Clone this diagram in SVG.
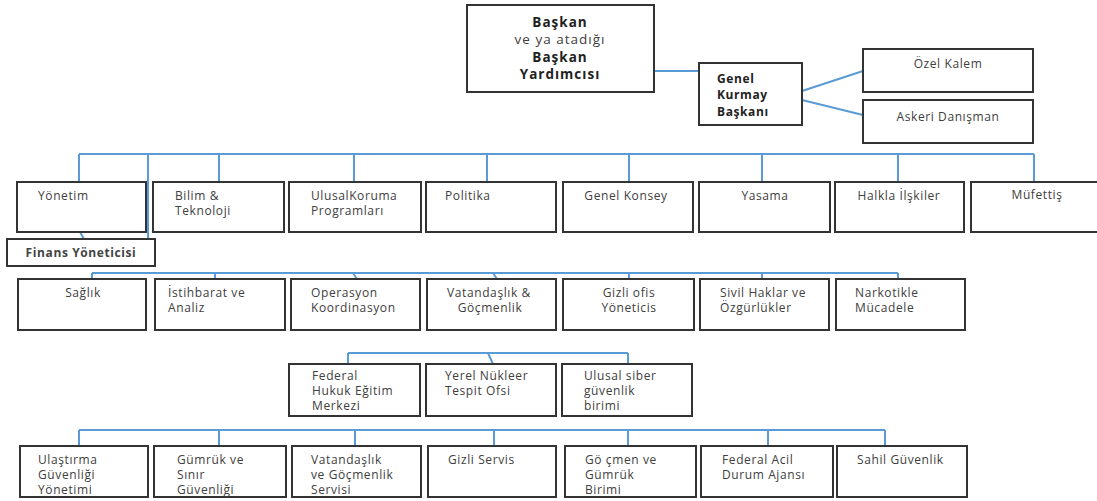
<svg xmlns="http://www.w3.org/2000/svg" width="1097" height="501" viewBox="0 0 1097 501">
<style>
.box{fill:#fff;stroke:#333;stroke-width:2}
.c{fill:none;stroke:#5b9bd5;stroke-width:2}
text{font-family:"Open Sans","Liberation Sans",sans-serif;font-size:12px;fill:#404040;letter-spacing:0.6px}
.b{font-weight:bold;fill:#222}
.t{font-size:13.5px;letter-spacing:1px}
.m{text-anchor:middle}
</style>
<rect width="1097" height="501" fill="#fff"/>
<g id="connectors">
<path class="c" d="M654 71H699"/>
<path class="c" d="M802 91L863 71M802 100L863 115"/>
<path class="c" d="M79 154H1034M79 154V182M219 154V182M354 154V182M487 154V182M629 154V182M762 154V182M898 154V182M1034 154V182M148 154V239"/>
<path class="c" d="M80 232L84 239"/>
<path class="c" d="M92 273H898M92 273V279M215 273V279M353 273L357 279M493 273L497 279M629 273V279M762 273V279M898 273V279"/>
<path class="c" d="M348 353H628M348 353V364M488 353L493 364M628 353V364"/>
<path class="c" d="M79 430H885M79 430V446M219 430V446M355 430V446M494 430V446M628 430V446M768 430V446M885 430V446"/>
</g>
<g id="baskan"><rect class="box" x="467" y="5" width="187" height="87"/>
<text class="b t m" x="560" y="27">Başkan</text><text class="t m" x="560" y="44">ve ya atadığı</text><text class="b t m" x="560" y="62">Başkan</text><text class="b t m" x="560" y="79">Yardımcısı</text></g>
<g id="genelkurmay"><rect class="box" x="699" y="63" width="103" height="62"/>
<text class="b" x="717" y="83">Genel</text><text class="b" x="717" y="99">Kurmay</text><text class="b" x="717" y="116">Başkanı</text></g>
<g id="ozelkalem"><rect class="box" x="863" y="49" width="170" height="43"/><text class="m" x="948" y="68">Özel Kalem</text></g>
<g id="askeri"><rect class="box" x="863" y="100" width="170" height="43"/><text class="m" x="948" y="121">Askeri Danışman</text></g>
<g id="yonetim"><rect class="box" x="17" y="182" width="129" height="50"/><text x="38" y="200">Yönetim</text></g>
<g id="bilim"><rect class="box" x="153" y="182" width="131" height="50"/><text x="175" y="200">Bilim &amp;</text><text x="175" y="215">Teknoloji</text></g>
<g id="ulusalkoruma"><rect class="box" x="289" y="182" width="132" height="50"/><text x="311" y="200">UlusalKoruma</text><text x="311" y="215">Programları</text></g>
<g id="politika"><rect class="box" x="426" y="182" width="130" height="50"/><text x="445" y="200">Politika</text></g>
<g id="genelkonsey"><rect class="box" x="563" y="182" width="130" height="50"/><text class="m" x="626" y="200">Genel Konsey</text></g>
<g id="yasama"><rect class="box" x="699" y="182" width="131" height="50"/><text class="m" x="765" y="200">Yasama</text></g>
<g id="halkla"><rect class="box" x="835" y="182" width="129" height="50"/><text class="m" x="899" y="200">Halkla İlşkiler</text></g>
<g id="mufettis"><rect class="box" x="971" y="182" width="140" height="50"/><text class="m" x="1037" y="199">Müfettiş</text></g>
<g id="finans"><rect class="box" x="7" y="239" width="148" height="27"/><text class="b m" x="81" y="257" style="fill:#444">Finans Yöneticisi</text></g>
<g id="saglik"><rect class="box" x="18" y="279" width="128" height="51"/><text class="m" x="83" y="297">Sağlık</text></g>
<g id="istihbarat"><rect class="box" x="155" y="279" width="130" height="51"/><text x="168" y="297">İstihbarat ve</text><text x="168" y="312">Analiz</text></g>
<g id="operasyon"><rect class="box" x="291" y="279" width="129" height="51"/><text x="311" y="297">Operasyon</text><text x="311" y="312">Koordinasyon</text></g>
<g id="vatandaslik"><rect class="box" x="427" y="279" width="129" height="51"/><text class="m" x="489" y="297">Vatandaşlık &amp;</text><text class="m" x="490" y="312">Göçmenlik</text></g>
<g id="gizliofis"><rect class="box" x="563" y="279" width="131" height="51"/><text class="m" x="629" y="297">Gizli  ofis</text><text class="m" x="629" y="312">Yöneticis</text></g>
<g id="sivil"><rect class="box" x="700" y="279" width="129" height="51"/><text x="720" y="297">Sivil Haklar ve</text><text x="720" y="312">Özgürlükler</text></g>
<g id="narkotik"><rect class="box" x="836" y="279" width="129" height="51"/><text x="855" y="297">Narkotikle</text><text x="855" y="312">Mücadele</text></g>
<g id="federalhukuk"><rect class="box" x="289" y="364" width="131" height="52"/><text x="312" y="380">Federal</text><text x="312" y="395">Hukuk  Eğitim</text><text x="312" y="410">Merkezi</text></g>
<g id="yerel"><rect class="box" x="426" y="364" width="130" height="52"/><text x="445" y="380">Yerel Nükleer</text><text x="445" y="395">Tespit Ofsi</text></g>
<g id="siber"><rect class="box" x="562" y="364" width="130" height="52"/><text x="584" y="380">Ulusal siber</text><text x="584" y="395">güvenlik</text><text x="584" y="410">birimi</text></g>
<g id="ulastirma"><rect class="box" x="20" y="446" width="128" height="51"/><text x="38" y="464">Ulaştırma</text><text x="38" y="479">Güvenliği</text><text x="38" y="494">Yönetimi</text></g>
<g id="gumruk"><rect class="box" x="154" y="446" width="132" height="51"/><text x="177" y="464">Gümrük ve</text><text x="177" y="479">Sınır</text><text x="177" y="494">Güvenliği</text></g>
<g id="vatandaslikservis"><rect class="box" x="292" y="446" width="129" height="51"/><text x="311" y="464">Vatandaşlık</text><text x="311" y="479">ve Göçmenlik</text><text x="311" y="494">Servisi</text></g>
<g id="gizliservis"><rect class="box" x="428" y="446" width="128" height="51"/><text x="448" y="464">Gizli Servis</text></g>
<g id="gocmen"><rect class="box" x="565" y="446" width="131" height="51"/><text x="585" y="464">Gö çmen ve</text><text x="585" y="479">Gümrük</text><text x="585" y="494">Birimi</text></g>
<g id="federalacil"><rect class="box" x="701" y="446" width="132" height="51"/><text x="722" y="464">Federal Acil</text><text x="722" y="479">Durum Ajansı</text></g>
<g id="sahil"><rect class="box" x="837" y="446" width="130" height="51"/><text x="857" y="464">Sahil Güvenlik</text></g>
</svg>
